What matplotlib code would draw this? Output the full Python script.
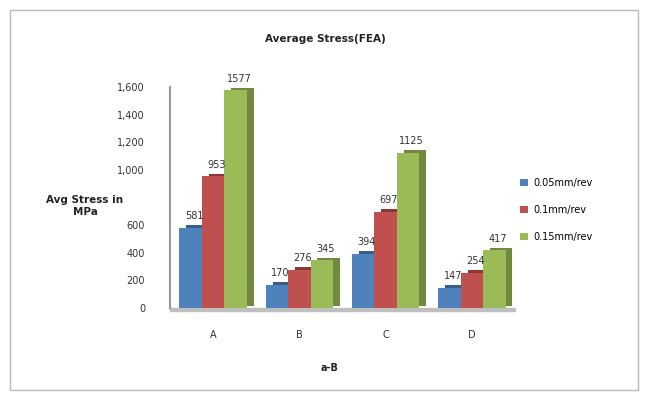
import numpy as np
import matplotlib.pyplot as plt
from matplotlib.patches import Rectangle

# stress values per design, one list per feed rate
designs = ['A', 'B', 'C', 'D']
feed_labels = ['0.05mm/rev', '0.1mm/rev', '0.15mm/rev']
s_005 = [581, 170, 394, 147]
s_010 = [953, 276, 697, 254]
s_015 = [1577, 345, 1125, 417]
yticks = [0, 200, 400, 600, 800, 1000, 1200, 1400, 1600]

series = [s_005, s_010, s_015]
colors = ['#4F81BD', '#C0504D', '#9BBB59']
sides = ['#385D8A', '#8C3836', '#71893F']

fig = plt.figure(figsize=(6.45, 3.98), dpi=100)
ax = fig.add_axes([170/645, 1-308/398, 345/645, 221/398])

x = np.arange(len(designs))
w = 0.26
dx, dy = 0.08, 18  # depth offset for the 3d look

for i, vals in enumerate(series):
    pos = x + (i - 1) * w
    # darker back/side face first, then the front face
    ax.bar(pos + dx, vals, w, bottom=dy, color=sides[i], zorder=2)
    ax.bar(pos, vals, w, color=colors[i], zorder=3, label=feed_labels[i])
    for p, v in zip(pos, vals):
        ax.text(p + dx / 2, v + dy + 30, str(v), ha='center', va='bottom',
                fontsize=7, color='#333333', zorder=5)

# floor slab
ax.add_patch(Rectangle((-0.5, -20), 4.0, 20, color='#BFBFBF', zorder=1, clip_on=False))
ax.set_xlim(-0.5, 3.5)
ax.set_ylim(0, 1600)
ax.set_yticks(yticks)
# the axis title sits over the 800 position
ax.set_yticklabels(['' if t == 800 else '{:,}'.format(t) for t in yticks],
                   fontsize=7, color='#333333')
ax.set_xticks(x)
ax.set_xticklabels(designs, fontsize=7, color='#333333')
ax.tick_params(length=0, pad=18)
ax.tick_params(axis='x', pad=16)
for s in ['top', 'right', 'bottom']:
    ax.spines[s].set_visible(False)
ax.spines['left'].set_color('#999999')
ax.spines['left'].set_linewidth(1.5)

fig.text(325/645, 1-39/398, 'Average Stress(FEA)', ha='center', va='center',
         fontsize=7.5, fontweight='bold', color='#222222')
fig.text(85/645, 1-206/398, 'Avg Stress in\nMPa', ha='center', va='center',
         fontsize=7.5, fontweight='bold', color='#222222', linespacing=1.3)
fig.text(330/645, 1-368/398, 'a-B', ha='center', va='center',
         fontsize=7, fontweight='bold', color='#222222')

leg = ax.legend(loc='center left', bbox_to_anchor=(0.99, 0.445), frameon=False,
                fontsize=7, handlelength=0.8, handleheight=0.8, labelspacing=1.75,
                handletextpad=0.5)

# chart border
fig.add_artist(Rectangle((10/645, 8/398), 628/645, 380/398, transform=fig.transFigure,
                         fill=False, edgecolor='#BBBBBB', linewidth=1))

fig.savefig('out.png', dpi=100)
